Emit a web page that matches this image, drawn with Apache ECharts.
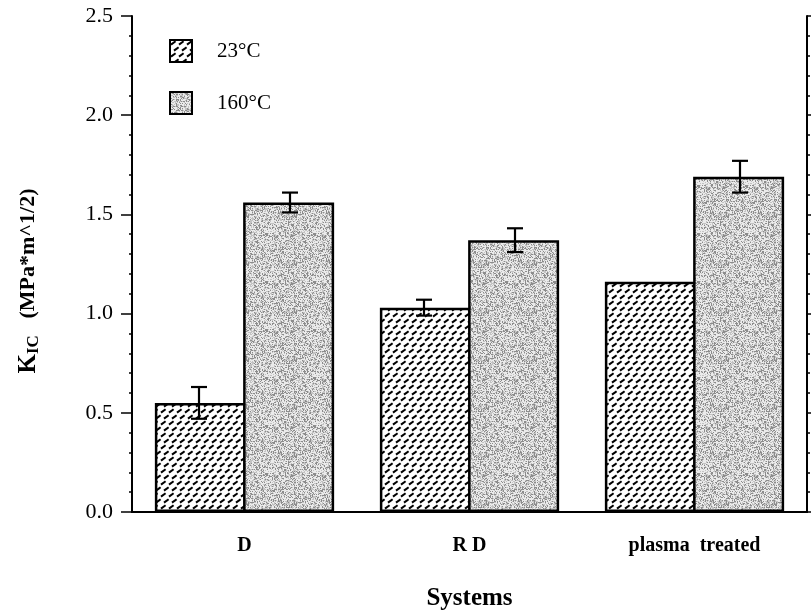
<!DOCTYPE html>
<html>
<head>
<meta charset="utf-8">
<script src="https://cdn.jsdelivr.net/npm/echarts@6/dist/echarts.min.js"></script>
<style>html,body{margin:0;padding:0;background:#fff;}#c{width:811px;height:612px;}</style>
</head>
<body>
<div id="c"></div>
<script>
const categories = ['D', 'R D', 'plasma  treated'];
const seriesNames = ['23°C', '160°C'];
const values23 = [0.55, 1.03, 1.16];
const values160 = [1.56, 1.37, 1.69];
const err23 = [0.08, 0.04, null];
const err160 = [0.05, 0.06, 0.08];
const yMin = 0, yMax = 2.5, yStep = 0.5;

function hatchPattern() {
  const c = document.createElement('canvas');
  c.width = 8; c.height = 12;
  const g = c.getContext('2d');
  g.fillStyle = '#fff'; g.fillRect(0, 0, 8, 12);
  g.strokeStyle = '#000'; g.lineWidth = 2; g.lineCap = 'butt';
  const dash = (ox, oy) => {
    g.beginPath(); g.moveTo(ox + 1, oy + 4.6); g.lineTo(ox + 5.6, oy + 1.2); g.stroke();
  };
  dash(0, 0); dash(3, 6); dash(-5, 6);
  return c;
}
function stipplePattern() {
  const n = 48;
  const c = document.createElement('canvas');
  c.width = n; c.height = n;
  const g = c.getContext('2d');
  const img = g.createImageData(n, n);
  for (let y = 0; y < n; y++) for (let x = 0; x < n; x++) {
    let h = ((x * 73856093) ^ (y * 19349663) ^ ((x * y) * 83492791)) >>> 0;
    h = (h ^ (h >>> 13)) * 1274126177 >>> 0;
    const r = (h % 1000) / 1000;
    const v = r < 0.25 ? 140 : (r < 0.55 ? 195 : 235);
    const i = (y * n + x) * 4;
    img.data[i] = img.data[i + 1] = img.data[i + 2] = v; img.data[i + 3] = 255;
  }
  g.putImageData(img, 0, 0);
  return c;
}
const hatch = { image: hatchPattern(), repeat: 'repeat' };
const stipple = { image: stipplePattern(), repeat: 'repeat' };

const barW = 91;
function errData(vals, errs) {
  const out = [];
  vals.forEach((v, i) => { if (errs[i] != null) out.push([i, v, errs[i]]); });
  return out;
}
function errRender(offset) {
  return function (params, api) {
    const xi = api.value(0), y = api.value(1), e = api.value(2);
    const hi = api.coord([xi, y + e]);
    const lo = api.coord([xi, y - e]);
    const x = hi[0] + offset;
    const hw = 8;
    const st = { stroke: '#000', lineWidth: 2.2 };
    return {
      type: 'group', children: [
        { type: 'line', shape: { x1: x, y1: hi[1], x2: x, y2: lo[1] }, style: st },
        { type: 'line', shape: { x1: x - hw, y1: hi[1], x2: x + hw, y2: hi[1] }, style: st },
        { type: 'line', shape: { x1: x - hw, y1: lo[1], x2: x + hw, y2: lo[1] }, style: st }
      ]
    };
  };
}

const serif = 'Liberation Serif';
const chart = echarts.init(document.getElementById('c'), null, { renderer: 'canvas' });
chart.setOption({
  animation: false,
  backgroundColor: '#fff',
  textStyle: { fontFamily: serif, color: '#000' },
  grid: { left: 132, right: 4, top: 16, bottom: 100, show: false, containLabel: false, outerBoundsMode: 'none' },
  legend: {
    orient: 'vertical', left: 169, top: 39, padding: 0, itemWidth: 22, itemHeight: 22, itemGap: 28,
    icon: 'rect',
    textStyle: { fontFamily: serif, fontSize: 21, color: '#000', padding: [0, 0, 0, 20] },
    data: seriesNames
  },
  xAxis: [{
    type: 'category', data: categories, position: 'bottom',
    axisLine: { lineStyle: { color: '#000', width: 2 } },
    axisTick: { alignWithLabel: true, length: 13, lineStyle: { color: '#000', width: 2 } },
    axisLabel: { fontFamily: serif, fontWeight: 'bold', fontSize: 20, color: '#000', margin: 24 },
    name: 'Systems', nameLocation: 'middle', nameGap: 74,
    nameTextStyle: { fontFamily: serif, fontWeight: 'bold', fontSize: 25, color: '#000' }
  }, {
    type: 'category', data: categories, position: 'top',
    axisLine: { lineStyle: { color: '#000', width: 2 } },
    axisTick: { show: false }, axisLabel: { show: false }
  }],
  yAxis: [{
    type: 'value', min: yMin, max: yMax, interval: yStep, position: 'left',
    axisLine: { show: true, lineStyle: { color: '#000', width: 2 } },
    axisTick: { show: true, length: 11, lineStyle: { color: '#000', width: 1.5 } },
    minorTick: { show: true, splitNumber: 5, length: 3, lineStyle: { color: '#000', width: 1.5 } },
    splitLine: { show: false },
    axisLabel: { fontFamily: serif, fontSize: 22, color: '#000', margin: 19, formatter: v => v.toFixed(1) },
    name: '{k|K}{s|IC}{p|   (MPa*m^1/2)}', nameLocation: 'middle', nameGap: 90, nameRotate: 90,
    nameTextStyle: {
      fontFamily: serif, fontWeight: 'bold', fontSize: 22, color: '#000', padding: [0, 34, 0, 0],
      rich: {
        k: { fontFamily: serif, fontWeight: 'bold', fontSize: 25, color: '#000' },
        s: { fontFamily: serif, fontWeight: 'bold', fontSize: 17, color: '#000', padding: [10, 0, 0, 0] },
        p: { fontFamily: serif, fontWeight: 'bold', fontSize: 22, color: '#000' }
      }
    }
  }, {
    type: 'value', min: yMin, max: yMax, interval: yStep, position: 'right',
    axisLine: { show: true, lineStyle: { color: '#000', width: 2 } },
    axisTick: { show: true, length: 4, lineStyle: { color: '#000', width: 1.5 } },
    minorTick: { show: true, splitNumber: 5, length: 3, lineStyle: { color: '#000', width: 1.5 } },
    splitLine: { show: false }, axisLabel: { show: false }
  }],
  series: [{
    name: seriesNames[0], type: 'bar', data: values23, barWidth: barW, barGap: '-3%',
    itemStyle: { color: hatch, borderColor: '#000', borderWidth: 2.5 }
  }, {
    name: seriesNames[1], type: 'bar', data: values160, barWidth: barW, barGap: '-3%',
    itemStyle: { color: stipple, borderColor: '#000', borderWidth: 2.5 }
  }, {
    type: 'custom', renderItem: errRender(-barW / 2), data: errData(values23, err23), z: 5
  }, {
    type: 'custom', renderItem: errRender(barW / 2), data: errData(values160, err160), z: 5
  }]
});
</script>
</body>
</html>
